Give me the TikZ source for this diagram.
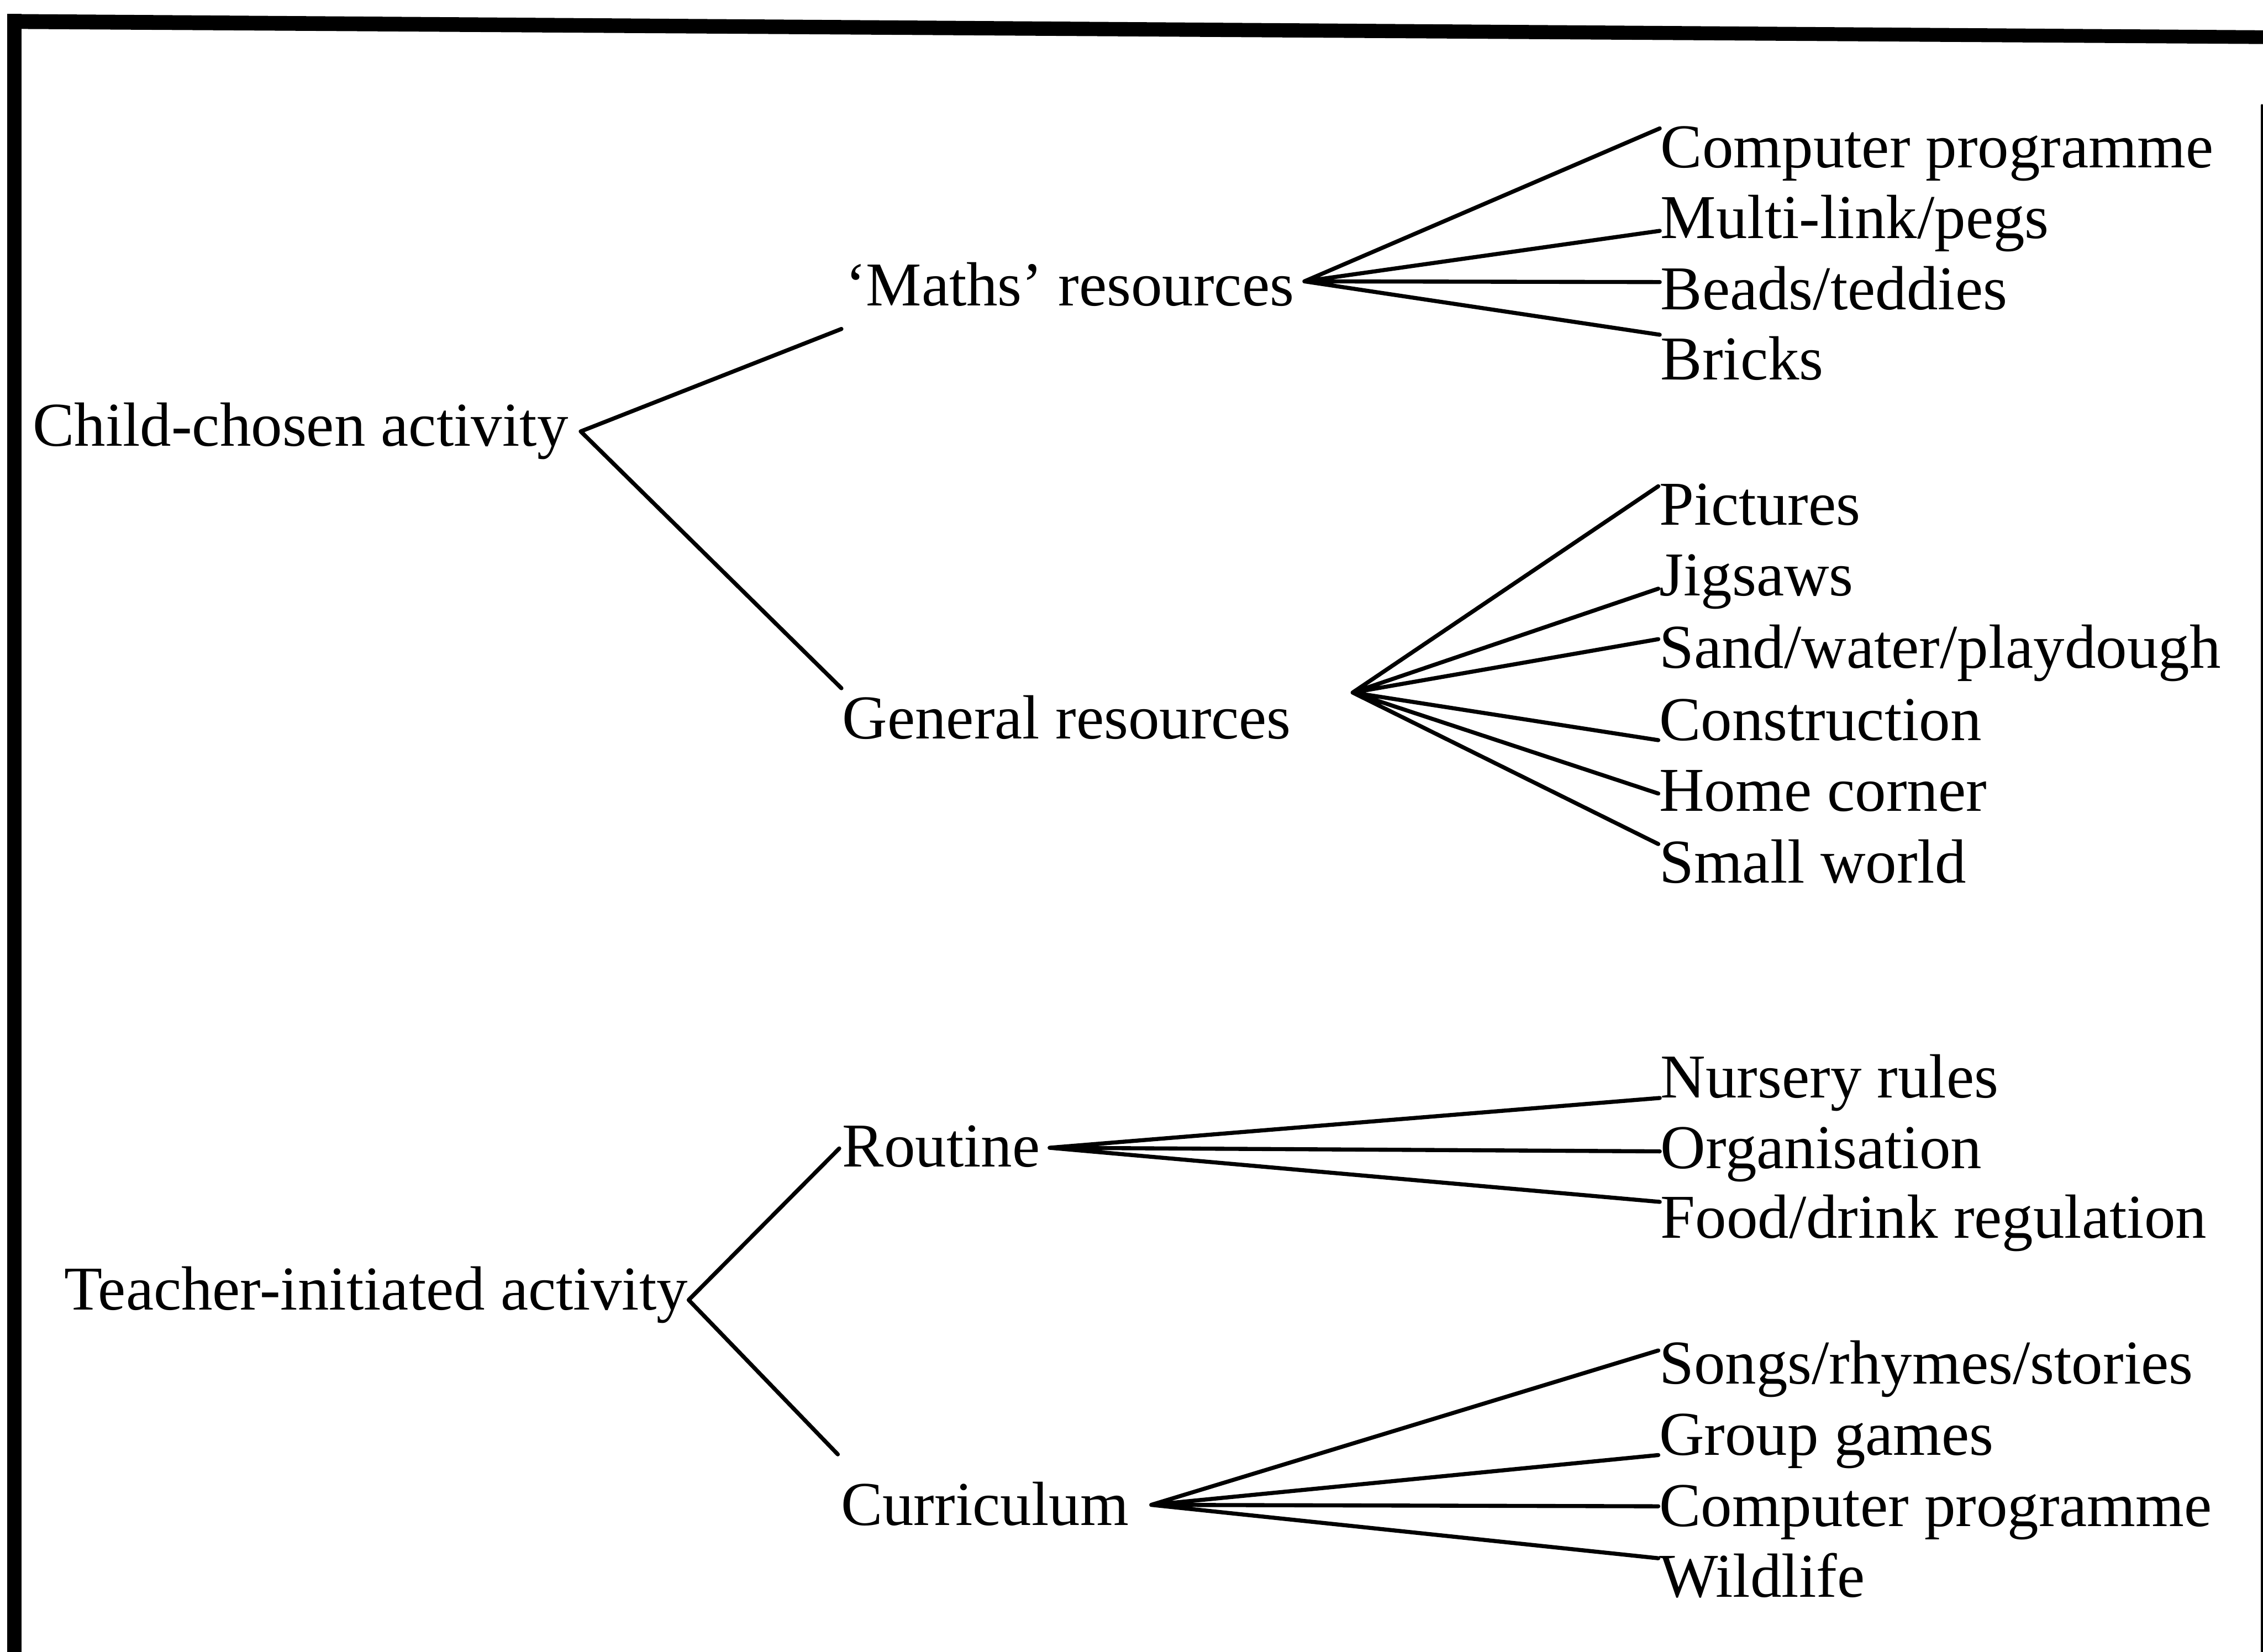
\documentclass[tikz,border=0pt]{standalone}
\usepackage{fontspec}
\setmainfont{Liberation Serif}
\begin{document}
\begin{tikzpicture}[x=0.1mm, y=-0.1mm, line join=round, line cap=round, font=\fontsize{12.3}{14}\selectfont]
	\tikzset{item/.style={inner sep=0pt, anchor=base west},
	branch/.style={line width=0.8pt}}
	\useasboundingbox (0,0) rectangle (1568,1145);
	% frame of the scan
	\fill (5,9.7) -- (1568,21) -- (1568,30.5) -- (5,20) -- cycle;
	\fill (5,9.7) rectangle (15,1145);
	\draw[line width=0.5pt] (1567.3,73) -- (1567.3,1145);
	% first level
	\node[item] (child) at (22,309) {Child-chosen activity};
	\node[item] (teacher) at (44,908) {Teacher-initiated activity};
	% second level
	\node[item] (maths) at (585,212) {‘Maths’ resources};
	\node[item] (general) at (583,512) {General resources};
	\node[item] (routine) at (583,808.5) {Routine};
	\node[item] (curric) at (582,1057) {Curriculum};
	% leaves
	\node[item] (cpA) at (1150,116) {Computer programme};
	\node[item] (multi) at (1150,165) {Multi-link/pegs};
	\node[item] (beads) at (1150,214.5) {Beads/teddies};
	\node[item] (bricks) at (1150,263) {Bricks};
	\node[item] (pict) at (1149,364) {Pictures};
	\node[item] (jigs) at (1149,413) {Jigsaws};
	\node[item] (sand) at (1149,463) {Sand/water/playdough};
	\node[item] (constr) at (1149,513) {Construction};
	\node[item] (home) at (1149,562) {Home corner};
	\node[item] (small) at (1149,612) {Small world};
	\node[item] (nursery) at (1150,761) {Nursery rules};
	\node[item] (organ) at (1150,810) {Organisation};
	\node[item] (food) at (1150,858) {Food/drink regulation};
	\node[item] (songs) at (1149,959) {Songs/rhymes/stories};
	\node[item] (group) at (1149,1008.5) {Group games};
	\node[item] (cpB) at (1149,1058) {Computer programme};
	\node[item] (wild) at (1149,1107) {Wildlife};
	% junctions
	\coordinate (cj) at ([shift={(0.8mm,1mm)}]child.base east);
	\coordinate (tj) at ([shift={(0mm,0.7mm)}]teacher.base east);
	\coordinate (mj) at ([shift={(0.65mm,1.7mm)}]maths.base east);
	\coordinate (gj) at ([shift={(4.2mm,3.2mm)}]general.base east);
	\coordinate (rj) at ([shift={(0.6mm,1.3mm)}]routine.base east);
	\coordinate (kj) at ([shift={(1.5mm,1.4mm)}]curric.base east);
	%
	\draw[branch] (cj) -- ([shift={(-0.2mm,-1.6mm)}]maths.base west)
	(cj) -- ([yshift=3.5mm]general.base west)
	(tj) -- ([shift={(-0.15mm,1.25mm)}]routine.base west)
	(tj) -- ([shift={(-0.15mm,4.9mm)}]curric.base west);
	\draw[branch] (mj) -- ([yshift=2.7mm]cpA.base west)
	(mj) -- ([yshift=0.5mm]multi.base west)
	(mj) -- ([yshift=1.9mm]beads.base west)
	(mj) -- ([yshift=3.1mm]bricks.base west);
	\draw[branch] (gj) -- ([yshift=2.7mm]pict.base west)
	(gj) -- ([yshift=0.5mm]jigs.base west)
	(gj) -- ([yshift=2mm]sand.base west)
	(gj) -- (constr.base west)
	(gj) -- ([yshift=1.2mm]home.base west)
	(gj) -- ([yshift=2.7mm]small.base west);
	\draw[branch] (rj) -- (nursery.base west)
	(rj) -- ([yshift=1.2mm]organ.base west)
	(rj) -- ([yshift=2.5mm]food.base west);
	\draw[branch] (kj) -- ([yshift=2.3mm]songs.base west)
	(kj) -- (group.base west)
	(kj) -- ([yshift=1.4mm]cpB.base west)
	(kj) -- ([yshift=2.7mm]wild.base west);
\end{tikzpicture}
\end{document}
